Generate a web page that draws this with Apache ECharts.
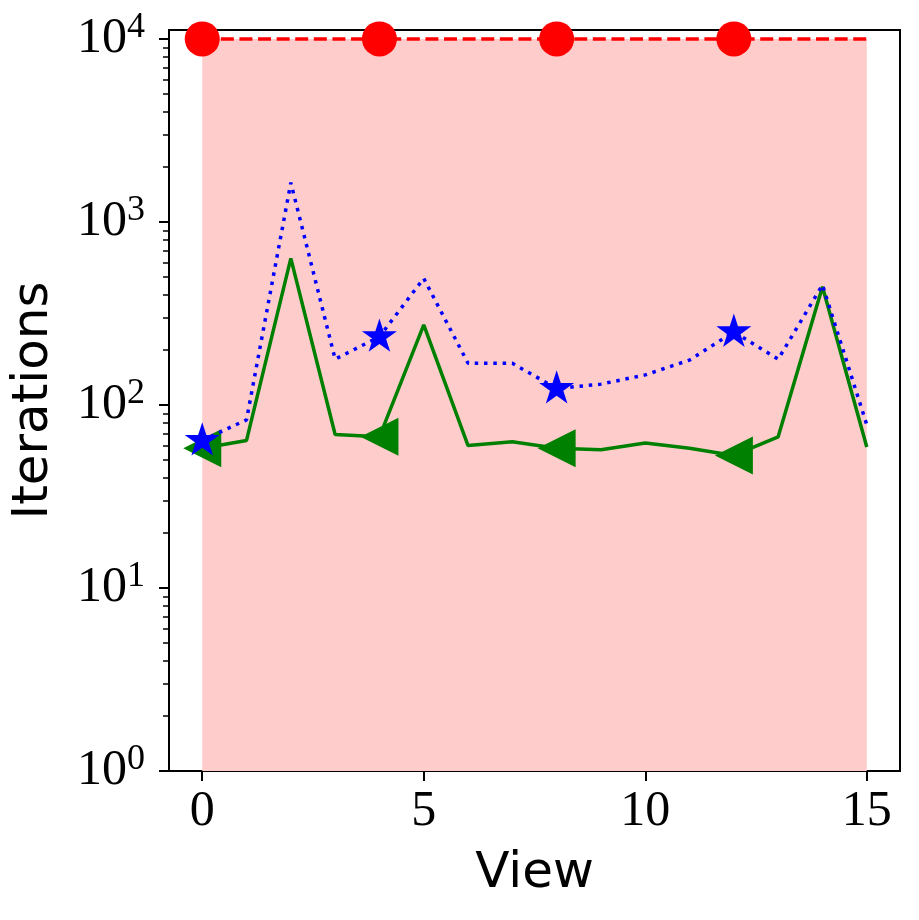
<!DOCTYPE html>
<html>
<head>
<meta charset="utf-8">
<script src="https://cdn.jsdelivr.net/npm/echarts@6/dist/echarts.min.js"></script>
<style>
  html, body { margin: 0; padding: 0; background: #fff; }
  #chart { width: 919px; height: 920px; }
</style>
</head>
<body>
<div id="chart"></div>
<script>
// views on the x axis
var views = [0, 1, 2, 3, 4, 5, 6, 7, 8, 9, 10, 11, 12, 13, 14, 15];
// iterations per view
var maxIters = [10000, 10000, 10000, 10000, 10000, 10000, 10000, 10000, 10000, 10000, 10000, 10000, 10000, 10000, 10000, 10000];
var blueIters = [64, 83, 1640, 178, 236, 492, 169, 169, 123, 130, 146, 176, 251, 178, 453, 78];
var greenIters = [58, 64, 632, 69, 67, 274, 60, 63, 58, 57, 62, 58, 53, 67, 443, 59];
// ticks
var xTicks = [0, 5, 10, 15];
var yTicks = [1, 10, 100, 1000, 10000];
var yMinorTicks = [2, 3, 4, 5, 6, 7, 8, 9,
                   20, 30, 40, 50, 60, 70, 80, 90,
                   200, 300, 400, 500, 600, 700, 800, 900,
                   2000, 3000, 4000, 5000, 6000, 7000, 8000, 9000];

function pairs(ys) {
    return views.map(function (x, i) { return [x, ys[i]]; });
}

var starPath = 'path://M1,0L0.7755,0.691L0.0489,0.691L0.6367,1.118L0.4122,1.809L1,1.382L1.5878,1.809L1.3633,1.118L1.9511,0.691L1.2245,0.691Z';
var triPath = 'path://M0,1L2,0L2,2Z';

function every4(symbol) {
    return function (value, params) {
        return params.dataIndex % 4 === 0 ? symbol : 'none';
    };
}

var chart = echarts.init(document.getElementById('chart'));

var labelRich = {
    b: { fontFamily: 'Liberation Serif', fontSize: 50, color: '#000' },
    s: { fontFamily: 'Liberation Serif', fontSize: 36, color: '#000', padding: [0, 0, 22, 0] }
};

var option = {
    backgroundColor: '#fff',
    animation: false,
    grid: {
        left: 169, right: 19, top: 30, bottom: 149,
        outerBoundsMode: 'none',
        show: true, borderColor: '#000', borderWidth: 2, backgroundColor: 'transparent'
    },
    xAxis: {
        type: 'value',
        min: -0.75, max: 15.75,
        name: 'View',
        nameLocation: 'middle',
        nameGap: 78,
        nameTextStyle: { fontFamily: 'DejaVu Sans', fontSize: 50, color: '#000' },
        axisLine: { show: true, onZero: false, lineStyle: { color: '#000', width: 2 } },
        axisTick: { show: true, customValues: xTicks, length: 10, lineStyle: { color: '#000', width: 2 } },
        axisLabel: {
            customValues: xTicks, margin: 16,
            fontFamily: 'Liberation Serif', fontSize: 50, color: '#000'
        },
        splitLine: { show: false }
    },
    yAxis: [{
        type: 'log',
        min: 1, max: 11194,
        name: 'Iterations',
        nameLocation: 'middle',
        nameGap: 110,
        nameTextStyle: { fontFamily: 'DejaVu Sans', fontSize: 50, color: '#000' },
        axisLine: { show: true, onZero: false, lineStyle: { color: '#000', width: 2 } },
        axisTick: { show: true, customValues: yTicks, length: 10, lineStyle: { color: '#000', width: 2 } },
        axisLabel: {
            customValues: yTicks, margin: 24,
            formatter: function (v) {
                return '{b|10}{s|' + Math.round(Math.log10(v)) + '}';
            },
            rich: labelRich
        },
        splitLine: { show: false }
    }, {
        // minor ticks only
        type: 'log',
        min: 1, max: 11194,
        position: 'left',
        axisLine: { show: false, onZero: false },
        axisTick: { show: true, customValues: yMinorTicks, length: 6, lineStyle: { color: '#000', width: 1.5 } },
        axisLabel: { show: false },
        splitLine: { show: false }
    }],
    series: [{
        type: 'line',
        data: pairs(maxIters),
        symbol: every4('circle'),
        symbolSize: 35,
        itemStyle: { color: '#ff0000' },
        lineStyle: { color: '#ff0000', width: 3.5, type: [13, 5.6] },
        areaStyle: { color: '#ffcccc', opacity: 1, origin: 'start' },
        z: 2
    }, {
        type: 'line',
        data: pairs(greenIters),
        symbol: every4(triPath),
        symbolSize: [38, 38],
        itemStyle: { color: '#008000' },
        lineStyle: { color: '#008000', width: 3.5 },
        z: 3
    }, {
        type: 'line',
        data: pairs(blueIters),
        symbol: every4(starPath),
        symbolSize: [35, 33.3],
        symbolOffset: [0, -1.6],
        itemStyle: { color: '#0000ff' },
        lineStyle: { color: '#0000ff', width: 3.5, type: [3.5, 5.8], cap: 'butt' },
        z: 4
    }]
};

chart.setOption(option);
</script>
</body>
</html>
